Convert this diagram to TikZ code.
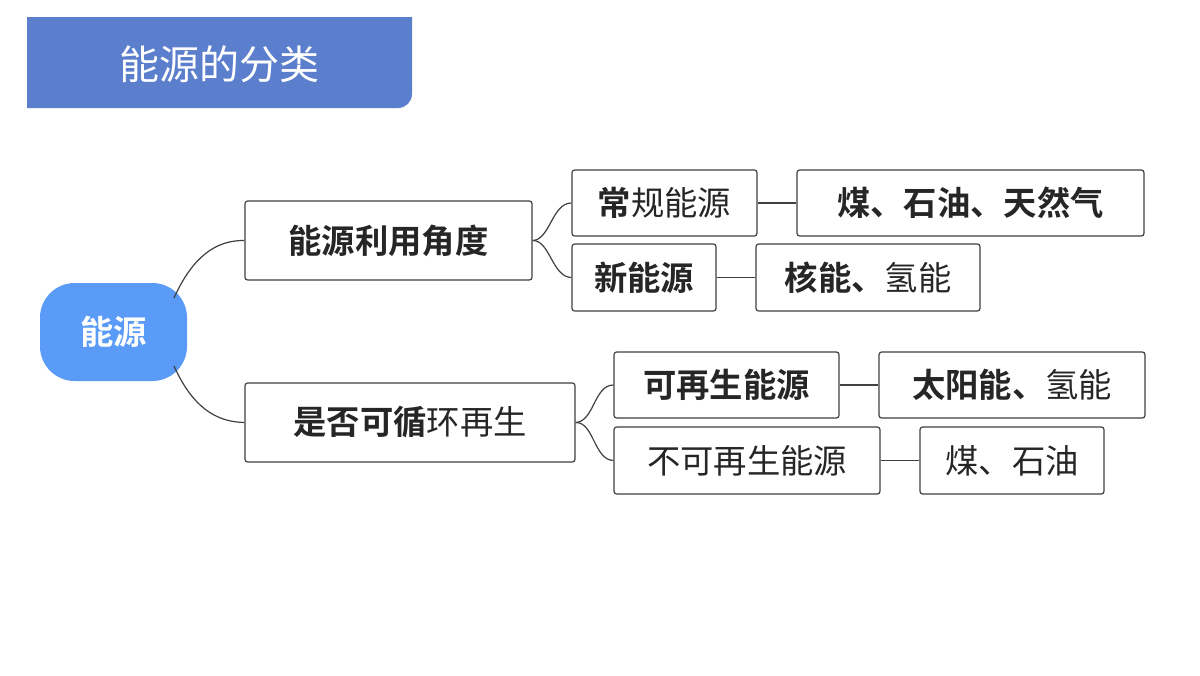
\documentclass[tikz,border=0pt]{standalone}
\usepackage{fontspec}
\setmainfont{Noto Sans CJK SC}[BoldFont={Noto Sans CJK SC Bold}]
\begin{document}
\begin{tikzpicture}[x=0.75pt,y=-0.75pt,
  sz/.style 2 args={minimum width=0.75*#1 pt,minimum height=0.75*#2 pt},
  box/.style={draw=black!75,line width=0.9pt,rounded corners=2pt,inner sep=0pt,font=\fontsize{25}{30}\selectfont,text=black!85},
  link/.style={draw=black!75,line width=0.9pt}]
\fill[white] (0,0) rectangle (1200,675);
\definecolor{tb}{HTML}{5B7FCC}
\definecolor{rb}{HTML}{5A9BF7}
\fill[tb] (27,17) -- (412,17) -- (412,94) arc[start angle=0,end angle=90,radius=14] -- (27,108) -- cycle;
\node[text=white,font=\fontsize{30}{36}\selectfont] (title) at (219,64) {能源的分类};
\node[fill=rb,rounded corners=26pt,sz={147}{98},text=white,font=\fontsize{25}{30}\selectfont\bfseries] (root) at (113.5,332) {能源};
\node[box,sz={287}{79}] (a) at (388.5,240.5) {\textbf{能源利用角度}};
\node[box,sz={330}{79}] (b) at (410,422.5) {\textbf{是否可循}环再生};
\node[box,sz={185}{66}] (a1) at (664.5,203) {\textbf{常}规能源};
\node[box,sz={144}{67}] (a2) at (644,277.5) {\textbf{新能源}};
\node[box,sz={347}{66}] (a1x) at (970.5,203) {\textbf{煤、石油、天然气}};
\node[box,sz={224}{67}] (a2x) at (868,277.5) {\textbf{核能、}氢能};
\node[box,sz={225}{66}] (b1) at (726.5,385) {\textbf{可再生能源}};
\node[box,sz={266}{67}] (b2) at (747,460.5) {不可再生能源};
\node[box,sz={266}{66}] (b1x) at (1012,385) {\textbf{太阳能、}氢能};
\node[box,sz={184}{67}] (b2x) at (1012,460.5) {煤、石油};
\coordinate (ru) at (174,298);
\coordinate (rd) at (174,366);
\draw[link] (ru) .. controls (192,258) and (215,240) .. (a.west);
\draw[link] (rd) .. controls (192,406) and (215,422) .. (b.west);
\draw[link] (a.east) .. controls (550,240) and (552,203) .. (a1.west);
\draw[link] (a.east) .. controls (550,240) and (552,277) .. (a2.west);
\draw[link] (b.east) .. controls (594,422) and (594,385) .. (b1.west);
\draw[link] (b.east) .. controls (594,422) and (594,460) .. (b2.west);
\draw[link] (a1.east) -- (a1x.west);
\draw[link] (a2.east) -- (a2x.west);
\draw[link] (b1.east) -- (b1x.west);
\draw[link] (b2.east) -- (b2x.west);
\end{tikzpicture}
\end{document}
